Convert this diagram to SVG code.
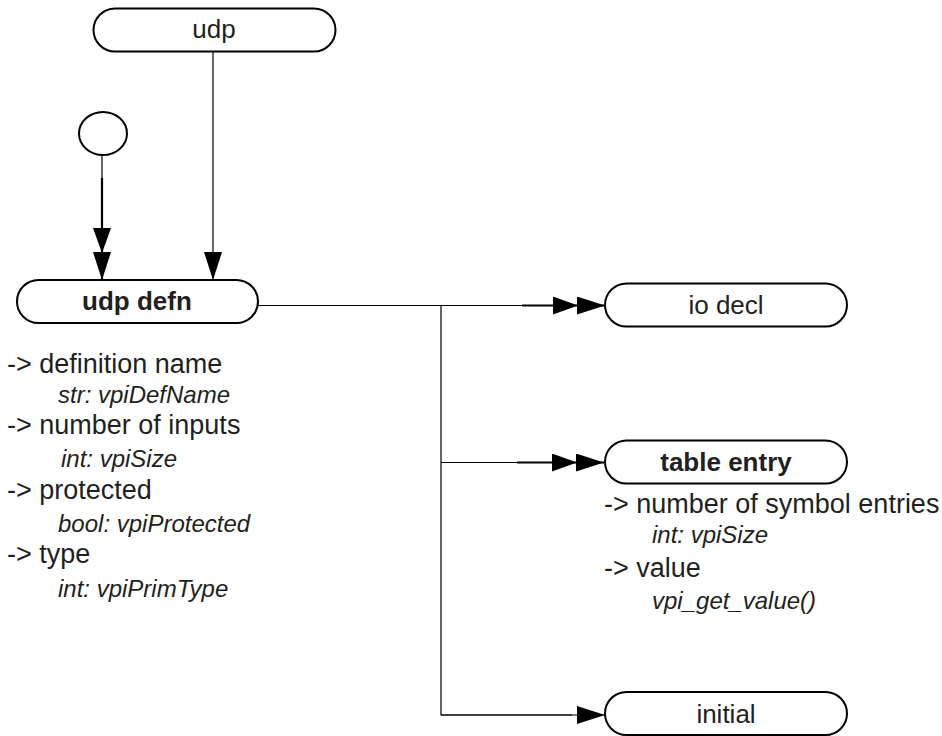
<svg xmlns="http://www.w3.org/2000/svg" width="942" height="736" viewBox="0 0 942 736">
  <defs>
    <marker id="tri" viewBox="0 0 28 18" refX="28" refY="9" markerWidth="28" markerHeight="18" markerUnits="userSpaceOnUse" orient="auto">
      <path d="M0,0 L28,9 L0,18 Z" fill="#000"/>
    </marker>
    <marker id="tri2" viewBox="0 0 52 18" refX="52" refY="9" markerWidth="52" markerHeight="18" markerUnits="userSpaceOnUse" orient="auto">
      <path d="M0,0 L25,9 L0,18 Z M24,0 L52,9 L24,18 Z" fill="#000"/>
    </marker>
  </defs>
  <style>
    .node { fill: #fff; stroke: #000; stroke-width: 2; }
    .t { font-family: "Liberation Sans", Arial, sans-serif; font-size: 26px; fill: #231f20; }
    .a { font-size: 27px; }
    .i { font-style: italic; font-size: 24px; }
    .b { font-weight: bold; }
    .c { text-anchor: middle; }
    .ln { fill: none; stroke: #000; stroke-width: 1.2; }
    .lt { fill: none; stroke: #000; stroke-width: 2.2; }
  </style>
  <rect width="942" height="736" fill="#fff"/>

  <g id="connectors">
    <line class="ln" x1="102" y1="155" x2="102" y2="180"/>
    <line class="lt" x1="102" y1="178" x2="102" y2="280" marker-end="url(#tri2)"/>
    <line class="ln" x1="213" y1="52" x2="213" y2="280" marker-end="url(#tri)"/>
    <polyline class="ln" points="258,305.5 441,305.5 441,715 572,715"/>
    <line class="ln" x1="441" y1="715" x2="605" y2="715" marker-end="url(#tri)"/>
    <line class="ln" x1="441" y1="305.5" x2="523" y2="305.5"/>
    <line class="lt" x1="522" y1="305.5" x2="605" y2="305.5" marker-end="url(#tri2)"/>
    <line class="ln" x1="441" y1="462.5" x2="518" y2="462.5"/>
    <line class="lt" x1="517" y1="462.5" x2="604" y2="462.5" marker-end="url(#tri2)"/>
  </g>

  <g id="node-udp">
    <rect class="node" x="93.5" y="8.5" width="242" height="43" rx="21.5"/>
    <text class="t c" x="214" y="38">udp</text>
  </g>

  <g id="node-start">
    <ellipse class="node" cx="103" cy="133.5" rx="24" ry="21.5" stroke-width="1.2"/>
  </g>

  <g id="node-udp-defn">
    <rect class="node" x="17" y="280" width="241" height="43" rx="21.5"/>
    <text class="t b c" x="137" y="310">udp defn</text>
    <text class="t a" x="7" y="373">-&gt; definition name</text>
    <text class="t i" x="58" y="403">str: vpiDefName</text>
    <text class="t a" x="7" y="434">-&gt; number of inputs</text>
    <text class="t i" x="61" y="467">int: vpiSize</text>
    <text class="t a" x="7" y="499">-&gt; protected</text>
    <text class="t i" x="58" y="532">bool: vpiProtected</text>
    <text class="t a" x="7" y="563">-&gt; type</text>
    <text class="t i" x="58" y="597">int: vpiPrimType</text>
  </g>

  <g id="node-io-decl">
    <rect class="node" x="605" y="283.5" width="242" height="43" rx="21.5"/>
    <text class="t c" x="726" y="314">io decl</text>
  </g>

  <g id="node-table-entry">
    <rect class="node" x="605" y="440.5" width="242" height="43" rx="21.5"/>
    <text class="t b c" x="726" y="471">table entry</text>
    <text class="t a" x="604" y="513">-&gt; number of symbol entries</text>
    <text class="t i" x="652" y="543">int: vpiSize</text>
    <text class="t a" x="604" y="577">-&gt; value</text>
    <text class="t i" x="652" y="609">vpi_get_value()</text>
  </g>

  <g id="node-initial">
    <rect class="node" x="605" y="692" width="242" height="43" rx="21.5"/>
    <text class="t c" x="726" y="723">initial</text>
  </g>
</svg>
